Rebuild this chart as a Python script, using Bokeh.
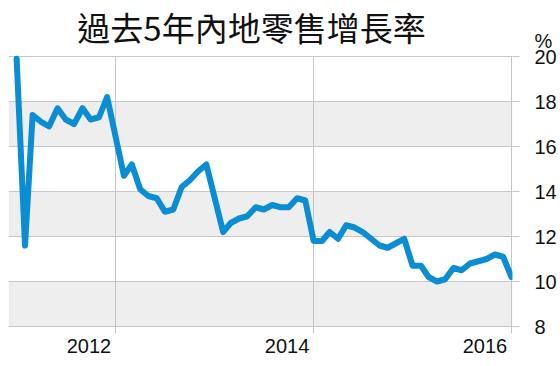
import pandas as pd
from bokeh.plotting import figure
from bokeh.models import FixedTicker, CustomJSTickFormatter, Range1d, Label, BoxAnnotation
from bokeh.embed import file_html
from bokeh.resources import INLINE

# ---- data (China retail sales growth, % y/y) ----
months = [
    "2011-01", "2011-02", "2011-03", "2011-04", "2011-05", "2011-06",
    "2011-07", "2011-08", "2011-09", "2011-10", "2011-11", "2011-12",
    "2012-02", "2012-03", "2012-04", "2012-05", "2012-06", "2012-07",
    "2012-08", "2012-09", "2012-10", "2012-11", "2012-12",
    "2013-02", "2013-03", "2013-04", "2013-05", "2013-06", "2013-07",
    "2013-08", "2013-09", "2013-10", "2013-11", "2013-12",
    "2014-01", "2014-02", "2014-03", "2014-04", "2014-05", "2014-06",
    "2014-07", "2014-08", "2014-09", "2014-10", "2014-11", "2014-12",
    "2015-01", "2015-02", "2015-03", "2015-04", "2015-05", "2015-06",
    "2015-07", "2015-08", "2015-09", "2015-10", "2015-11", "2015-12",
    "2016-01",
]
growth = [
    19.9, 11.6, 17.4, 17.1, 16.9, 17.7, 17.2, 17.0, 17.7, 17.2, 17.3, 18.2,
    14.7, 15.2, 14.1, 13.8, 13.7, 13.1, 13.2, 14.2, 14.5, 14.9, 15.2,
    12.2, 12.6, 12.8, 12.9, 13.3, 13.2, 13.4, 13.3, 13.3, 13.7, 13.6,
    11.8, 11.8, 12.2, 11.9, 12.5, 12.4, 12.2, 11.9, 11.6, 11.5, 11.7, 11.9,
    10.7, 10.7, 10.2, 10.0, 10.1, 10.6, 10.5, 10.8, 10.9, 11.0, 11.2, 11.1,
    10.2,
]
year_ticks = ["2012-01-01", "2014-01-01", "2016-01-01"]
y_ticks = [8, 10, 12, 14, 16, 18, 20]
title_text = "過去5年內地零售增長率"
unit_text = "%"

# ---- styling / layout constants ----
BLUE = "#0b8dd4"
GRID = "#c6c6c6"
BAND = "#eeeeee"
TEXT = "#111111"
LABEL_SHIFT_DAYS = 98      # year labels sit to the left of their gridline
Y_LO, Y_HI = 7.689, 22.489  # frame spans the whole height above the x labels
UNIT_POS = 20.667          # where the "%" unit sits on the right axis

x = pd.to_datetime(months)
grid_ms = [pd.Timestamp(s).value / 1e6 for s in year_ticks]
label_ms = [(pd.Timestamp(s) - pd.Timedelta(days=LABEL_SHIFT_DAYS)).value / 1e6 for s in year_ticks]

p = figure(
    width=560, height=366,
    x_axis_type="datetime",
    x_range=Range1d(pd.Timestamp("2010-12-02"), pd.Timestamp("2016-01-04 16:00")),
    y_range=Range1d(Y_LO, Y_HI),
    y_axis_location="right",
    output_backend="svg", toolbar_location=None, title=None,
    min_border_left=8, min_border_right=48, min_border_top=0, min_border_bottom=33,
)
p.outline_line_color = None
p.background_fill_color = "white"
p.border_fill_color = "white"

# alternating grey bands between every other pair of value ticks
for lo, hi in zip(y_ticks[0::2], y_ticks[1::2]):
    p.add_layout(BoxAnnotation(bottom=lo, top=hi, fill_color=BAND, fill_alpha=1,
                               line_color=None, level="image"))

# vertical grid (stops at the top value of the scale)
xg = p.xgrid[0]
xg.ticker = FixedTicker(ticks=grid_ms)
xg.grid_line_color = GRID
xg.grid_line_width = 1
try:
    xg.cross_bounds = (Y_LO, max(y_ticks))
except AttributeError:
    xg.visible = False
    p.segment(x0=pd.to_datetime(year_ticks), y0=[Y_LO] * len(year_ticks),
              x1=pd.to_datetime(year_ticks), y1=[max(y_ticks)] * len(year_ticks),
              line_color=GRID, line_width=1)

# horizontal grid
yg = p.ygrid[0]
yg.ticker = FixedTicker(ticks=y_ticks)
yg.grid_line_color = GRID
yg.grid_line_width = 1

# right axis: value labels + unit
ya = p.yaxis[0]
ya.ticker = FixedTicker(ticks=y_ticks + [UNIT_POS], minor_ticks=y_ticks)
ya.formatter = CustomJSTickFormatter(
    code="return tick > 20.5 ? '%s' : String(tick);" % unit_text)
ya.axis_line_color = None
ya.major_tick_in = 0
ya.major_tick_out = 0
ya.major_tick_line_color = None
ya.minor_tick_in = 0
ya.minor_tick_out = 7
ya.minor_tick_line_color = GRID
ya.major_label_standoff = 15
ya.major_label_text_font = "Liberation Sans"
ya.major_label_text_font_size = "20px"
ya.major_label_text_color = TEXT

# bottom axis: year labels
xa = p.xaxis[0]
xa.ticker = FixedTicker(ticks=label_ms)
xa.formatter = CustomJSTickFormatter(
    code="return String(new Date(tick + %d*86400000).getUTCFullYear());" % LABEL_SHIFT_DAYS)
xa.axis_line_color = None
xa.major_tick_in = 0
xa.major_tick_out = 0
xa.minor_tick_line_color = None
xa.major_label_standoff = 5
xa.major_label_text_font = "Liberation Sans"
xa.major_label_text_font_size = "20px"
xa.major_label_text_color = TEXT

p.line(x, growth, line_width=6, color=BLUE, line_join="round", line_cap="round")

# title (inside the top part of the frame)
p.add_layout(Label(x=243, y=307, x_units="screen", y_units="screen", text=title_text,
                   text_font="Noto Sans CJK TC", text_font_size="33px",
                   text_align="center", text_baseline="middle", text_color=TEXT))

open("out.html", "w").write(file_html(p, INLINE))
